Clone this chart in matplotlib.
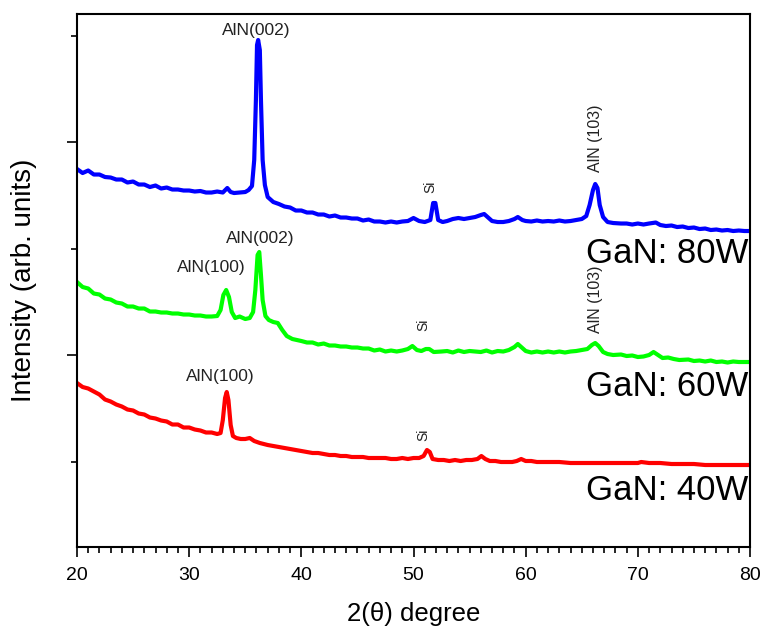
import matplotlib.pyplot as plt
import numpy as np

plt.rcParams['font.family'] = ['Liberation Sans', 'DejaVu Sans']

# XRD patterns, intensity in arbitrary (offset) units
two_theta_80 = [20.0, 20.5, 21.0, 21.5, 22.0, 22.5, 23.0, 23.5, 24.0, 24.5, 25.0, 25.5, 26.0, 26.5,
                27.0, 27.5, 28.0, 28.5, 29.0, 29.5, 30.0, 30.5, 31.0, 31.5, 32.0, 32.5, 33.0, 33.4,
                33.7, 34.0, 34.5, 35.0, 35.3, 35.6, 35.8, 35.95, 36.05, 36.15, 36.3, 36.4, 36.55,
                36.75, 37.0, 37.5, 38.0, 38.5, 39.0, 39.5, 40.0, 40.5, 41.0, 41.5, 42.0, 42.5, 43.0,
                43.5, 44.0, 44.5, 45.0, 45.5, 46.0, 46.5, 47.0, 47.5, 48.0, 48.5, 49.0, 49.5, 50.0,
                50.5, 51.0, 51.5, 51.75, 51.95, 52.2, 52.6, 53.0, 53.5, 54.0, 54.5, 55.0, 55.5, 56.0,
                56.3, 56.7, 57.0, 57.5, 58.0, 58.5, 59.0, 59.3, 59.7, 60.0, 60.5, 61.0, 61.5, 62.0,
                62.5, 63.0, 63.5, 64.0, 64.5, 65.0, 65.4, 65.7, 66.0, 66.2, 66.4, 66.6, 66.9, 67.3,
                67.8, 68.5, 69.0, 69.5, 70.0, 70.5, 71.0, 71.6, 72.0, 72.5, 73.0, 73.5, 74.0, 74.5,
                75.0, 75.5, 76.0, 76.5, 77.0, 77.5, 78.0, 78.5, 79.0, 79.5, 80.0]
intensity_80 = [3780, 3740, 3765, 3725, 3725, 3700, 3695, 3675, 3675, 3645, 3655, 3625, 3625, 3600,
                3615, 3585, 3595, 3575, 3575, 3565, 3565, 3555, 3560, 3545, 3545, 3555, 3545, 3590,
                3550, 3540, 3545, 3550, 3570, 3610, 3870, 4470, 5020, 5070, 4970, 4470, 3870,
                3620, 3500, 3450, 3430, 3405, 3395, 3365, 3365, 3345, 3345, 3325, 3325, 3305, 3315,
                3295, 3295, 3285, 3285, 3265, 3275, 3255, 3255, 3245, 3255, 3245, 3255, 3260, 3290,
                3260, 3250, 3270, 3440, 3440, 3270, 3250, 3260, 3280, 3290, 3280, 3290, 3300, 3320,
                3330, 3290, 3260, 3250, 3250, 3260, 3280, 3300, 3270, 3260, 3255, 3265, 3255, 3260,
                3255, 3265, 3255, 3260, 3270, 3280, 3310, 3420, 3570, 3630, 3590, 3420, 3300, 3250,
                3240, 3235, 3235, 3225, 3235, 3225, 3235, 3245, 3220, 3210, 3215, 3200, 3205, 3190,
                3195, 3180, 3185, 3170, 3175, 3165, 3170, 3160, 3165, 3160, 3160]

two_theta_60 = [20.0, 20.5, 21.0, 21.5, 22.0, 22.5, 23.0, 23.5, 24.0, 24.5, 25.0, 25.5, 26.0, 26.5,
                27.0, 27.5, 28.0, 28.5, 29.0, 29.5, 30.0, 30.5, 31.0, 31.5, 32.0, 32.5, 32.8, 33.05,
                33.3, 33.55, 33.8, 34.1, 34.5, 35.0, 35.4, 35.7, 35.9, 36.1, 36.25, 36.4, 36.55, 36.8,
                37.1, 37.5, 37.9, 38.3, 38.7, 39.2, 39.6, 40.0, 40.5, 41.0, 41.5, 42.0, 42.5, 43.0,
                43.5, 44.0, 44.5, 45.0, 45.5, 46.0, 46.5, 47.0, 47.5, 48.0, 48.5, 49.0, 49.5, 49.9,
                50.3, 50.7, 51.1, 51.4, 51.8, 52.5, 53.0, 53.5, 54.0, 54.5, 55.0, 55.5, 56.0, 56.5,
                57.0, 57.5, 58.0, 58.5, 59.0, 59.3, 59.6, 60.0, 60.5, 61.0, 61.5, 62.0, 62.5, 63.0,
                63.5, 64.0, 64.5, 65.0, 65.5, 65.9, 66.2, 66.5, 66.9, 67.3, 67.8, 68.5, 69.0, 69.5,
                70.0, 70.5, 71.0, 71.4, 71.8, 72.2, 72.7, 73.2, 73.7, 74.5, 75.0, 75.5, 76.0, 76.5,
                77.0, 77.5, 78.0, 78.5, 79.0, 79.5, 80.0]
intensity_60 = [2650, 2600, 2585, 2535, 2525, 2485, 2475, 2445, 2435, 2405, 2405, 2385, 2385, 2355,
                2355, 2345, 2345, 2335, 2335, 2325, 2325, 2315, 2315, 2305, 2305, 2310, 2370, 2520,
                2570, 2500, 2350, 2290, 2305, 2280, 2290, 2350, 2570, 2920, 2950, 2720, 2470, 2310,
                2270, 2250, 2240, 2170, 2110, 2080, 2070, 2060, 2045, 2045, 2025, 2035, 2015, 2015,
                2005, 2005, 1995, 1995, 1985, 1985, 1965, 1975, 1955, 1965, 1955, 1965, 1980, 2010,
                1970, 1960, 1980, 1980, 1950, 1955, 1960, 1945, 1965, 1950, 1960, 1955, 1950, 1965,
                1945, 1960, 1955, 1970, 2000, 2030, 2000, 1960, 1945, 1955, 1945, 1955, 1945, 1955,
                1945, 1955, 1960, 1970, 1980, 2020, 2040, 2010, 1950, 1930, 1920, 1925, 1910, 1915,
                1900, 1905, 1920, 1950, 1920, 1890, 1895, 1880, 1870, 1875, 1860, 1865, 1855, 1865,
                1850, 1855, 1845, 1855, 1850, 1850, 1850]

two_theta_40 = [20.0, 20.5, 21.0, 21.5, 22.0, 22.5, 23.0, 23.5, 24.0, 24.5, 25.0, 25.5, 26.0, 26.5,
                27.0, 27.5, 28.0, 28.5, 29.0, 29.5, 30.0, 30.5, 31.0, 31.5, 32.0, 32.5, 32.8, 33.0,
                33.2, 33.35, 33.5, 33.7, 33.9, 34.2, 34.6, 35.0, 35.4, 35.8, 36.3, 37.0, 37.5, 38.0,
                38.5, 39.0, 39.5, 40.0, 40.5, 41.0, 41.5, 42.0, 42.5, 43.0, 43.5, 44.0, 44.5, 45.0,
                45.5, 46.0, 46.5, 47.0, 47.5, 48.0, 48.5, 49.0, 49.5, 50.0, 50.5, 50.9, 51.2, 51.45,
                51.7, 52.2, 52.7, 53.2, 53.7, 54.2, 54.7, 55.2, 55.7, 56.05, 56.4, 56.8, 57.3, 57.8,
                58.3, 58.8, 59.2, 59.6, 60.0, 60.5, 61.0, 62.0, 63.0, 64.0, 65.0, 66.0, 67.0, 68.0,
                69.0, 70.0, 70.3, 71.0, 72.0, 73.0, 74.0, 75.0, 76.0, 77.0, 78.0, 79.0, 80.0]
intensity_40 = [1640, 1600, 1585, 1555, 1525, 1475, 1455, 1425, 1405, 1375, 1365, 1335, 1325, 1295,
                1285, 1265, 1255, 1225, 1225, 1195, 1195, 1175, 1165, 1145, 1145, 1130, 1140, 1270,
                1490, 1550, 1470, 1220, 1110, 1090, 1080, 1080, 1090, 1060, 1040, 1020, 1010, 1000,
                990, 980, 970, 960, 950, 940, 940, 930, 920, 920, 910, 910, 900, 900,
                900, 890, 890, 890, 890, 880, 880, 890, 880, 890, 890, 910, 970, 950,
                880, 870, 870, 860, 870, 860, 870, 870, 880, 910, 880, 860, 860, 850,
                850, 850, 860, 880, 860, 860, 850, 850, 850, 840, 840, 840, 840, 840,
                840, 840, 850, 840, 840, 830, 830, 830, 820, 820, 820, 820, 820]

# peak labels: (text, 2theta, intensity, rotation, size)
peak_labels = [
    ("AlN(002)", 35.96, 5170, 0, 12.5),
    ("Si", 51.5, 3600, 90, 10),
    ("AlN (103)", 66.2, 4090, 90, 11.5),
    ("AlN(100)", 32.0, 2800, 0, 12.5),
    ("AlN(002)", 36.3, 3090, 0, 12.5),
    ("Si", 50.9, 2220, 90, 10),
    ("AlN (103)", 66.2, 2480, 90, 11.5),
    ("AlN(100)", 32.8, 1710, 0, 12.5),
    ("Si", 50.9, 1120, 90, 10),
]
sample_names = ["GaN: 80W", "GaN: 60W", "GaN: 40W"]
sample_label_y = [2940, 1610, 570]

fig = plt.figure(figsize=(7.63, 6.26), dpi=100)
ax = fig.add_axes([0.1009, 0.1262, 0.8821, 0.8514])

ax.plot(two_theta_80, intensity_80, color='#0000ff', lw=3)
ax.plot(two_theta_60, intensity_60, color='#00ff00', lw=3)
ax.plot(two_theta_40, intensity_40, color='#ff0000', lw=3)

for txt, x, y, rot, size in peak_labels:
    ax.text(x, y, txt, rotation=rot, fontsize=size, ha='center', va='center', color='#222222')

for name, y in zip(sample_names, sample_label_y):
    ax.text(79.85, y, name, fontsize=25, ha='right', va='center')

ax.set_xlim(20, 80)
ax.set_ylim(0, 5330)
ax.set_xticks([20, 30, 40, 50, 60, 70, 80])
ax.set_xticks(np.arange(20, 81, 1), minor=True)
ax.set_yticks([1920, 4050])
ax.set_yticks([850, 2980, 5110], minor=True)
ax.set_yticklabels([])
ax.tick_params(axis='both', which='major', direction='out', length=7.5, width=1.2, labelsize=14)
ax.tick_params(axis='x', which='major', pad=7)
ax.tick_params(axis='both', which='minor', direction='out', length=4, width=1.2)
for s in ax.spines.values():
    s.set_linewidth(1.5)

ax.set_xlabel("2(θ) degree", fontsize=18.5, labelpad=13)
ax.set_ylabel("Intensity (arb. units)", fontsize=20, labelpad=18)

plt.savefig("out.png", dpi=100)
